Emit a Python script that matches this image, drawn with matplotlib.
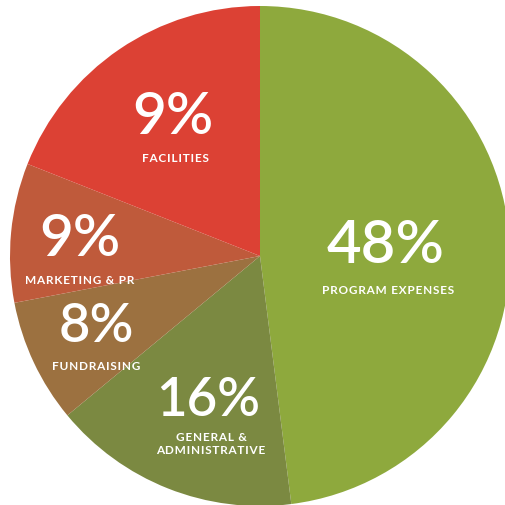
import matplotlib
matplotlib.use("Agg")
import matplotlib.pyplot as plt

categories = ["PROGRAM EXPENSES", "GENERAL &\nADMINISTRATIVE", "FUNDRAISING", "MARKETING & PR", "FACILITIES"]
values = [48, 16, 8, 9, 19]
pct_labels = ["48%", "16%", "8%", "9%", "9%"]
colors = ["#8ea93d", "#7b8941", "#9c7140", "#bf5a3b", "#dc4134"]

W, H = 505, 506
fig = plt.figure(figsize=(W / 100, H / 100), dpi=100)
ax = fig.add_axes([0, 0, 1, 1])

cx, cy, r = 260, H - 257, 250
ax.pie(values, colors=colors, startangle=90, counterclock=False,
       center=(cx, cy), radius=r, frame=True,
       wedgeprops=dict(linewidth=0))
ax.set_xlim(0, W)
ax.set_ylim(0, H)
ax.set_aspect("equal")
ax.axis("off")


def spaced(s):
    hair = "\u200a"
    return "\n".join(hair.join(ch for ch in line) for line in s.split("\n"))


# label anchor positions (pixel coords from top)
num_pos = [(386, 246), (208, 400), (96, 327), (80, 240), (173, 117)]
num_size = [43, 38, 39, 42, 42]
cat_pos = [(388, 290), (211, 444), (96, 366), (80, 280), (175, 158)]

fam = ["Lato", "DejaVu Sans"]
for lab, cat, (nx, ny), ns, (tx, ty) in zip(pct_labels, categories, num_pos, num_size, cat_pos):
    ax.text(nx, H - ny, lab, color="white", fontsize=ns, ha="center", va="center",
            family=fam, fontweight=600)
    ax.text(tx, H - ty, spaced(cat), color="white", fontsize=8.5, ha="center", va="center",
            family=fam, fontweight="bold", linespacing=1.15)

fig.savefig("out.png", dpi=100)
